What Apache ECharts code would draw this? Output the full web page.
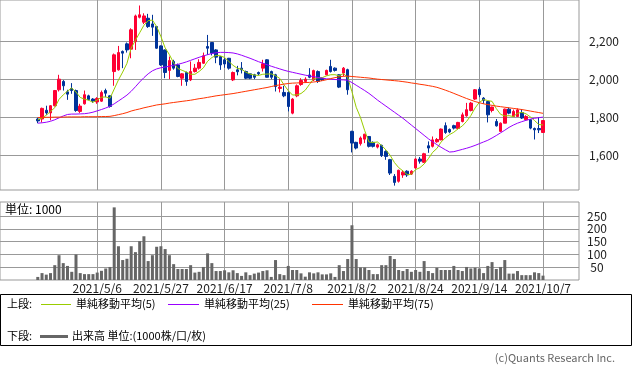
<!DOCTYPE html>
<html><head><meta charset="utf-8">
<script src="https://cdn.jsdelivr.net/npm/echarts@6.0.0/dist/echarts.min.js"></script>
<style>html,body{margin:0;padding:0;background:#fff}#c{width:633px;height:375px}</style>
</head><body><div id="c"></div>
<script>
const dates = ['2021/4/12','2021/4/13','2021/4/14','2021/4/15','2021/4/16','2021/4/19','2021/4/20','2021/4/21','2021/4/22','2021/4/23','2021/4/26','2021/4/27','2021/4/28','2021/4/30',
'2021/5/6','2021/5/7','2021/5/10','2021/5/11','2021/5/12','2021/5/13','2021/5/14','2021/5/17','2021/5/18','2021/5/19','2021/5/20','2021/5/21','2021/5/24','2021/5/25','2021/5/26','2021/5/27','2021/5/28','2021/5/31',
'2021/6/1','2021/6/2','2021/6/3','2021/6/4','2021/6/7','2021/6/8','2021/6/9','2021/6/10','2021/6/11','2021/6/14','2021/6/15','2021/6/16','2021/6/17','2021/6/18','2021/6/21','2021/6/22','2021/6/23','2021/6/24','2021/6/25','2021/6/28','2021/6/29','2021/6/30',
'2021/7/1','2021/7/2','2021/7/5','2021/7/6','2021/7/7','2021/7/8','2021/7/9','2021/7/12','2021/7/13','2021/7/14','2021/7/15','2021/7/16','2021/7/19','2021/7/20','2021/7/21','2021/7/26','2021/7/27','2021/7/28','2021/7/29','2021/7/30',
'2021/8/2','2021/8/3','2021/8/4','2021/8/5','2021/8/6','2021/8/10','2021/8/11','2021/8/12','2021/8/13','2021/8/16','2021/8/17','2021/8/18','2021/8/19','2021/8/20','2021/8/23','2021/8/24','2021/8/25','2021/8/26','2021/8/27','2021/8/30','2021/8/31',
'2021/9/1','2021/9/2','2021/9/3','2021/9/6','2021/9/7','2021/9/8','2021/9/9','2021/9/10','2021/9/13','2021/9/14','2021/9/15','2021/9/16','2021/9/17','2021/9/21','2021/9/22','2021/9/24','2021/9/27','2021/9/28','2021/9/29','2021/9/30',
'2021/10/1','2021/10/4','2021/10/5','2021/10/6','2021/10/7'];

const open = [1790,1790,1836,1822,1860,1944,1988,1933,1951,1940,1830,1870,1912,1895,
1880,1884,1940,1912,2040,2049,2146,2186,2158,2198,2326,2300,2321,2291,2277,2175,2154,2046,
2093,2075,2005,2035,1996,2040,2058,2084,2172,2193,2154,2119,2102,2110,1996,2049,2058,2040,2028,2023,2035,2058,
2102,2040,2023,1951,1930,1930,1821,1912,1972,1988,2022,1996,2040,2005,2023,2067,2058,2023,2032,2050,
1725,1667,1660,1684,1698,1667,1642,1651,1619,1576,1488,1462,1495,1515,1500,1532,1579,1562,1649,1646,1670,
1680,1755,1735,1755,1740,1777,1807,1835,1895,1947,1900,1882,1835,1777,1725,1768,1842,1803,1803,1824,
1786,1786,1740,1740,1719];
const close = [1780,1846,1822,1860,1940,2000,1965,1921,1940,1835,1858,1918,1893,1885,
1898,1930,1926,1856,2128,2140,2137,2154,2260,2333,2339,2333,2277,2274,2163,2075,2035,2098,
2058,2014,2028,1988,2040,2058,2088,2123,2163,2137,2116,2075,2080,2058,2035,2039,2049,2005,2005,2010,2028,2081,
2010,2010,1961,1958,1912,1856,1895,1965,1993,2000,2010,2045,1988,1997,2046,2040,2046,1958,2058,1944,
1663,1637,1690,1710,1646,1646,1654,1597,1593,1505,1456,1520,1510,1495,1515,1579,1568,1607,1637,1680,1682,
1737,1719,1722,1742,1772,1812,1839,1874,1944,1918,1888,1812,1853,1754,1768,1842,1821,1830,1838,1795,
1803,1742,1733,1733,1782];
const low = [1768,1772,1812,1783,1856,1935,1940,1891,1923,1828,1822,1866,1888,1875,
1870,1880,1905,1850,1965,2045,2058,2140,2110,2154,2320,2290,2270,2228,2160,2070,2005,2000,
2050,2010,1965,1965,1990,2035,2050,2080,2128,2125,2084,2049,2060,2050,1990,2020,2030,2000,2000,2000,2020,2040,
2008,2000,1935,1930,1905,1830,1815,1905,1965,1980,2005,1990,1980,1990,2020,2035,2040,1953,2014,1918,
1614,1630,1650,1663,1640,1640,1635,1590,1575,1495,1439,1455,1480,1485,1495,1528,1555,1558,1612,1640,1665,
1678,1712,1715,1735,1735,1772,1802,1830,1890,1905,1870,1772,1825,1750,1722,1768,1815,1805,1810,1790,
1782,1736,1682,1716,1718];
const high = [1797,1850,1860,1863,1943,2023,1995,1944,1979,1945,1870,1940,1918,1900,
1905,1940,1950,1915,2135,2175,2151,2193,2268,2340,2388,2347,2344,2339,2280,2178,2156,2119,
2102,2082,2032,2040,2093,2080,2105,2140,2233,2195,2158,2122,2110,2112,2040,2070,2090,2045,2030,2028,2040,2102,
2105,2045,2028,2000,1965,1935,1900,1972,2005,2010,2058,2050,2046,2010,2050,2102,2062,2026,2064,2055,
1728,1670,1698,1712,1700,1672,1660,1655,1625,1580,1500,1523,1520,1520,1520,1584,1590,1612,1672,1698,1690,
1740,1772,1740,1760,1775,1824,1875,1880,1948,1958,1905,1885,1855,1790,1772,1845,1850,1840,1846,1842,
1810,1790,1745,1800,1784];

const volume = [12,27,21,27,58,97,66,55,32,100,27,23,23,23,
29,36,45,51,284,132,78,83,132,109,152,171,74,97,130,132,121,97,
62,43,43,43,58,29,32,51,104,66,35,35,38,30,38,27,16,30,19,25,29,35,
38,12,78,23,19,55,39,39,26,13,30,26,30,22,22,26,12,58,35,82,
214,82,49,49,39,23,23,58,58,94,82,39,35,43,32,39,32,74,35,27,48,
39,39,39,55,39,35,51,45,48,45,27,55,70,43,51,78,25,25,35,19,
19,19,30,27,17];

const ma5 = [1786,1795,1810,1830,1849.6,1893.6,1917.4,1937.2,1953.2,1932.2,1903.8,1894.4,1888.8,1877.8,
1890.4,1904.8,1906.4,1899,1947.6,1996,2037.4,2083,2163.8,2204.8,2244.6,2283.8,2308.4,2311.2,2277.2,2224.4,2164.8,2129,
2085.8,2056,2046.6,2037.2,2025.6,2025.6,2040.4,2059.4,2094.4,2113.8,2125.4,2122.8,2114.2,2093.2,2072.8,2057.4,2052.2,2037.2,2026.6,2021.6,2019.4,2025.8,
2026.8,2027.8,2018,2004,1970.2,1939.4,1916.4,1917.2,1924.2,1941.8,1972.6,2002.6,2007.2,2008,2017.2,2023.2,2023.4,2017.4,2029.6,2009.2,
1933.8,1852,1798.4,1728.8,1669.2,1665.8,1669.2,1650.6,1627.2,1599,1561,1534.2,1516.8,1497.2,1499.2,1523.8,1533.4,1552.8,1581.2,1614.2,1634.8,
1668.6,1691,1708,1720.4,1738.4,1753.4,1777.4,1807.8,1848.2,1877.4,1892.6,1887.2,1883,1845,1815,1805.8,1807.6,1803,1819.8,1825.2,
1817.4,1801.6,1782.2,1761.2,1758.6];

const ma25 = [1768,1770,1773,1778,1786,1796,1806,1814,1816,1816,1817,1818,1821,1826,
1833,1840,1848,1857,1870,1885,1900,1916,1936,1960,1985,2008,2028,2044,2054,2060,2064,2068,
2073,2078,2084,2091,2099,2107,2115,2122,2129,2135,2139,2141,2141,2140,2138,2133,2126,2118,2110,2101,2092,2084,
2076,2068,2061,2054,2047,2041,2036,2031,2026,2021,2017,2013,2009,2005,2002,2000,1998,1997,1996,1994,
1982,1968,1954,1940,1925,1908,1890,1874,1858,1842,1826,1810,1794,1776,1758,1740,1722,1704,1686,1670,1655,
1641,1628,1616,1618,1624,1630,1636,1643,1651,1660,1669,1678,1690,1703,1717,1731,1746,1758,1768,1776,
1783,1789,1794,1797,1800];

const ma75 = [1798,1798,1799,1799,1800,1800,1800,1801,1801,1801,1801,1802,1802,1802,
1802,1803,1803,1804,1808,1813,1818,1824,1832,1838,1843,1849,1854,1859,1864,1867,1870,1874,
1877,1880,1883,1886,1889,1893,1897,1900,1904,1908,1912,1915,1918,1921,1924,1928,1932,1936,1940,1944,1948,1952,
1956,1961,1966,1970,1974,1977,1979,1980,1981,1982,1983,1985,1988,1992,1997,2003,2008,2012,2015,2016,
2014,2012,2010,2008,2006,2003,2000,1998,1996,1994,1992,1990,1987,1984,1980,1977,1973,1970,1966,1962,1957,
1950,1942,1934,1925,1916,1907,1898,1890,1882,1876,1870,1866,1862,1858,1855,1852,1849,1846,1843,1840,
1836,1832,1828,1824,1820];

const tickDates = ['2021/5/6','2021/5/27','2021/6/17','2021/7/8','2021/8/2','2021/8/24','2021/9/14','2021/10/7'];
const priceTicks = [1600,1800,2000,2200];
const volTicks = [50,100,150,200,250];

const FONT = '"Noto Sans CJK JP", "DejaVu Sans", sans-serif';
const tickIdx = tickDates.map(d => dates.indexOf(d));
const xMin = -8.9, xMax = 127.48;
const UP = '#ff0033', DOWN = '#003399';

const candle = dates.map((d, i) => [i, open[i], close[i], low[i], high[i]]);
const pair = arr => arr.map((v, i) => [i, v]);

const chart = echarts.init(document.getElementById('c'), null, {renderer: 'canvas'});
const lineSeries = (name, data, color) => ({
  name, type: 'line', xAxisIndex: 0, yAxisIndex: 0, data: pair(data),
  showSymbol: false, symbol: 'none', silent: true,
  lineStyle: {color, width: 1}, itemStyle: {color}, z: 3
});

chart.setOption({
  animation: false,
  backgroundColor: '#fff',
  grid: [
    {left: 0, top: 0, width: 579, height: 190, show: true, borderColor: '#999', borderWidth: 1, backgroundColor: '#fff'},
    {left: 0, top: 202, width: 579, height: 78, show: true, borderColor: '#999', borderWidth: 1, backgroundColor: '#fff'}
  ],
  xAxis: [
    {type: 'value', gridIndex: 0, min: xMin, max: xMax,
     axisLine: {show: false}, axisLabel: {show: false},
     axisTick: {show: false, customValues: tickIdx},
     splitLine: {show: true, lineStyle: {color: '#999', width: 1}}},
    {type: 'value', gridIndex: 1, min: xMin, max: xMax,
     axisLine: {show: false},
     axisTick: {show: false, customValues: tickIdx},
     axisLabel: {customValues: tickIdx, formatter: v => dates[Math.round(v)], fontFamily: FONT, fontSize: 12, color: '#222', margin: 2},
     splitLine: {show: true, lineStyle: {color: '#999', width: 1}}}
  ],
  yAxis: [
    {type: 'value', gridIndex: 0, position: 'right', min: 1416, max: 2417,
     axisLine: {show: false},
     axisTick: {show: true, length: 5, customValues: priceTicks, lineStyle: {color: '#999'}},
     axisLabel: {customValues: priceTicks, formatter: v => v.toLocaleString('en-US'), fontFamily: FONT, fontSize: 12, color: '#222', margin: 10},
     splitLine: {show: true, lineStyle: {color: '#999', width: 1}}},
    {type: 'value', gridIndex: 1, position: 'right', min: 0, max: 305,
     axisLine: {show: false},
     axisTick: {show: true, length: 4, customValues: volTicks, lineStyle: {color: '#999'}},
     axisLabel: {customValues: volTicks, fontFamily: FONT, fontSize: 12, color: '#222', margin: 18, align: 'center'},
     splitLine: {show: true, lineStyle: {color: '#999', width: 1}}}
  ],
  series: [
    {name: 'price', type: 'candlestick', xAxisIndex: 0, yAxisIndex: 0, data: candle,
     barWidth: 3, silent: true, z: 2,
     itemStyle: {color: UP, color0: DOWN, borderColor: UP, borderColor0: DOWN, borderWidth: 1}},
    lineSeries('単純移動平均(5)', ma5, '#99cc00'),
    lineSeries('単純移動平均(25)', ma25, '#9900ff'),
    lineSeries('単純移動平均(75)', ma75, '#ff3300'),
    {name: '出来高', type: 'bar', xAxisIndex: 1, yAxisIndex: 1, data: pair(volume),
     barWidth: 3, silent: true, itemStyle: {color: '#666'}}
  ],
  graphic: [
    {type: 'text', x: 5, y: 209, style: {text: '単位: 1000', font: '12px ' + FONT, fill: '#000', verticalAlign: 'middle'}},
    {type: 'rect', shape: {x: 0.5, y: 294.5, width: 631, height: 51}, style: {fill: '#fff', stroke: '#000', lineWidth: 1}},
    {type: 'text', x: 7, y: 304, style: {text: '上段:', font: '11px ' + FONT, fill: '#000', verticalAlign: 'middle'}},
    {type: 'line', shape: {x1: 41, y1: 304.5, x2: 71, y2: 304.5}, style: {stroke: '#99cc00', lineWidth: 1}},
    {type: 'text', x: 76, y: 304, style: {text: '単純移動平均(5)', font: '11px ' + FONT, fill: '#000', verticalAlign: 'middle'}},
    {type: 'line', shape: {x1: 168, y1: 304.5, x2: 199, y2: 304.5}, style: {stroke: '#9900ff', lineWidth: 1}},
    {type: 'text', x: 204, y: 304, style: {text: '単純移動平均(25)', font: '11px ' + FONT, fill: '#000', verticalAlign: 'middle'}},
    {type: 'line', shape: {x1: 312, y1: 304.5, x2: 343, y2: 304.5}, style: {stroke: '#ff3300', lineWidth: 1}},
    {type: 'text', x: 348, y: 304, style: {text: '単純移動平均(75)', font: '11px ' + FONT, fill: '#000', verticalAlign: 'middle'}},
    {type: 'text', x: 7, y: 336, style: {text: '下段:', font: '11px ' + FONT, fill: '#000', verticalAlign: 'middle'}},
    {type: 'line', shape: {x1: 40, y1: 336.5, x2: 68, y2: 336.5}, style: {stroke: '#666', lineWidth: 3}},
    {type: 'text', x: 72, y: 336, style: {text: '出来高 単位:(1000株/口/枚)', font: '11px ' + FONT, fill: '#000', verticalAlign: 'middle'}},
    {type: 'text', x: 615, y: 358, style: {text: '(c)Quants Research Inc.', font: '11px ' + FONT, fill: '#666', align: 'right', verticalAlign: 'middle'}}
  ]
});
</script>
</body></html>
